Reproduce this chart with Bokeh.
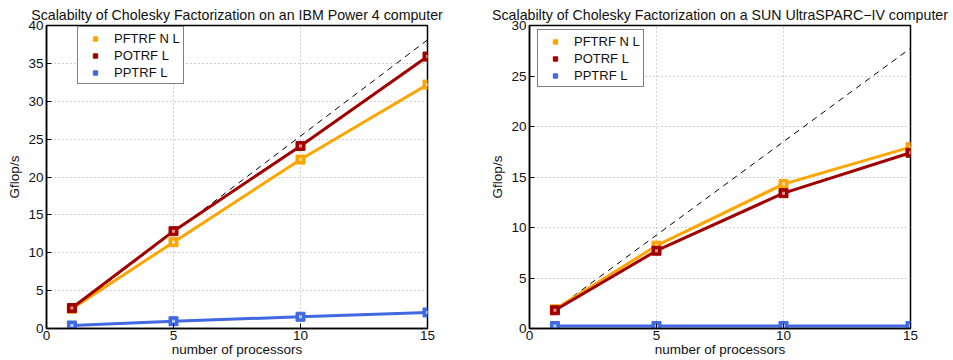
from bokeh.plotting import figure
from bokeh.layouts import row
from bokeh.models import Legend, LegendItem, FixedTicker, Range1d
from bokeh.embed import file_html
from bokeh.resources import INLINE

procs = [1, 5, 10, 15]
ideal_procs = [1, 15]
series_names = ["PFTRF N L", "POTRF L", "PPTRF L"]
colors = ["#FFA500", "#A00000", "#4169E1"]
centers = ["#FFE2A8", "#E89090", "#B8CCFF"]

ibm_title = "Scalabilty of Cholesky Factorization on an IBM Power 4 computer"
ibm_pftrf = [2.6, 11.4, 22.3, 32.2]
ibm_potrf = [2.7, 12.85, 24.1, 35.9]
ibm_pptrf = [0.4, 0.96, 1.55, 2.12]
ibm_ideal = [2.54, 38.1]
ibm_yticks = [0, 5, 10, 15, 20, 25, 30, 35, 40]

sun_title = "Scalabilty of Cholesky Factorization on a SUN UltraSPARC\u2212IV computer"
sun_pftrf = [1.9, 8.2, 14.3, 17.96]
sun_potrf = [1.8, 7.7, 13.4, 17.4]
sun_pptrf = [0.25, 0.25, 0.25, 0.25]
sun_ideal = [1.85, 27.75]
sun_yticks = [0, 5, 10, 15, 20, 25, 30]

xticks = [0, 5, 10, 15]
FONT = "Liberation Sans"
FRAME_H = 303


def style_axis(ax):
    ax.major_tick_in = 5
    ax.major_tick_out = 0
    ax.minor_tick_line_color = None
    ax.axis_line_color = "black"
    ax.axis_line_width = 1.5
    ax.major_tick_line_color = "black"
    ax.major_label_text_font = FONT
    ax.major_label_text_font_size = "13.5px"
    ax.major_label_text_color = "#111111"
    ax.axis_label_text_font = FONT
    ax.axis_label_text_font_size = "13.5px"
    ax.axis_label_text_font_style = "normal"
    ax.axis_label_text_color = "#111111"
    ax.major_label_standoff = 3


def make_fig(title, series, ideal, yticks, width, bl, br, leg_x, leg_top):
    p = figure(width=width, height=360, output_backend="svg", toolbar_location=None,
               x_range=Range1d(0, 15), y_range=Range1d(yticks[0], yticks[-1]),
               min_border_left=bl, min_border_right=br, min_border_top=25,
               min_border_bottom=32, title=title)
    p.title.text_font = FONT
    p.title.text_font_size = "14.2px"
    p.title.text_font_style = "normal"
    p.title.text_color = "#111111"
    p.title.align = "center"
    p.title.standoff = 5
    p.outline_line_color = "black"
    p.outline_line_width = 1.5
    p.background_fill_color = "white"
    p.border_fill_color = "white"

    p.xaxis.ticker = FixedTicker(ticks=xticks)
    p.yaxis.ticker = FixedTicker(ticks=yticks)
    style_axis(p.xaxis[0])
    style_axis(p.yaxis[0])
    p.xaxis.axis_label_standoff = -1
    p.xaxis.major_label_standoff = 2
    p.yaxis.axis_label_standoff = 3
    p.xaxis.axis_label = "number of processors"
    p.yaxis.axis_label = "Gflop/s"

    p.xgrid.ticker = FixedTicker(ticks=xticks)
    p.ygrid.ticker = FixedTicker(ticks=yticks)
    for g in (p.xgrid[0], p.ygrid[0]):
        g.grid_line_color = "#a0a0a0"
        g.grid_line_dash = "1 3"
        g.grid_line_width = 1

    p.line(ideal_procs, ideal, line_color="black", line_width=1, line_dash="6 5")

    items = []
    for name, vals, c, cc in zip(series_names, series, colors, centers):
        p.line(procs, vals, line_color=c, line_width=3)
        m = p.scatter(procs, vals, marker="square", size=9, fill_color=c, line_color=c, line_width=1)
        p.scatter(procs, vals, marker="square", size=3, fill_color=cc, line_color=None)
        items.append(LegendItem(label=name, renderers=[m]))

    leg = Legend(items=items)
    leg.label_text_font = FONT
    leg.label_text_font_size = "13px"
    leg.label_text_color = "#111111"
    leg.border_line_color = "black"
    leg.border_line_width = 1.5
    leg.background_fill_color = "white"
    leg.background_fill_alpha = 1
    leg.padding = 3
    leg.margin = 0
    leg.spacing = 1
    leg.glyph_width = 28
    leg.glyph_height = 11
    leg.label_height = 16
    leg.label_standoff = 5
    leg.location = (leg_x, FRAME_H - leg_top - 55)
    p.add_layout(leg, "center")
    return p


p1 = make_fig(ibm_title, [ibm_pftrf, ibm_potrf, ibm_pptrf], ibm_ideal, ibm_yticks,
              483, 46, 56, 31, 4)
p2 = make_fig(sun_title, [sun_pftrf, sun_potrf, sun_pptrf], sun_ideal, sun_yticks,
              470, 46, 43, 8, 7)

layout = row(p1, p2)
open("out.html", "w").write(file_html(layout, INLINE))
